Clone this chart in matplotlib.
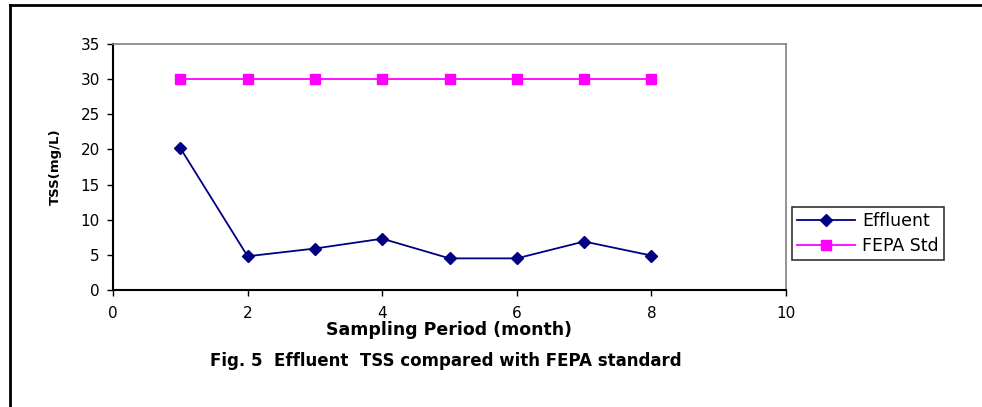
import matplotlib.pyplot as plt
from matplotlib.lines import Line2D

plt.rcParams['font.family'] = ['DejaVu Sans']

months = [1, 2, 3, 4, 5, 6, 7, 8]
effluent = [20.2, 4.8, 5.9, 7.3, 4.5, 4.5, 6.9, 4.9]
fepa_std = [30, 30, 30, 30, 30, 30, 30, 30]

W, H = 982, 407
fig = plt.figure(figsize=(W / 100, H / 100), dpi=100)
ax = fig.add_axes([113 / W, 1 - 290 / H, (786 - 113) / W, (290 - 44) / H])

ax.plot(months, effluent, color='#000080', marker='D', markersize=6.5,
        linewidth=1.3, label='Effluent')
ax.plot(months, fepa_std, color='#FF00FF', marker='s', markersize=6.5,
        linewidth=1.3, label='FEPA Std')

ax.set_xlim(0, 10)
ax.set_ylim(0, 35)
ax.set_xticks(range(0, 11, 2))
ax.set_yticks(range(0, 36, 5))
ax.tick_params(direction='out', length=4.5, width=1, labelsize=11, color='black')
ax.tick_params(axis='x', pad=7)
ax.tick_params(axis='y', pad=5)
ax.spines['left'].set_color('black')
ax.spines['bottom'].set_color('black')
ax.spines['left'].set_linewidth(1.5)
ax.spines['bottom'].set_linewidth(1.5)
ax.spines['top'].set_color('#808080')
ax.spines['right'].set_color('#808080')
ax.spines['top'].set_linewidth(1.2)
ax.spines['right'].set_linewidth(1.2)

ax.set_ylabel('TSS(mg/L)', fontsize=9.5, fontweight='bold', labelpad=13)
ax.set_xlabel('Sampling Period (month)', fontsize=12.5, fontweight='bold', labelpad=0)

leg = ax.legend(loc='upper left', bbox_to_anchor=(792 / W, 1 - 207 / H),
                bbox_transform=fig.transFigure, frameon=True, fancybox=False,
                fontsize=12.5, borderpad=0.3, handlelength=3.3,
                labelspacing=0.4, handletextpad=0.45, borderaxespad=0)
leg.get_frame().set_edgecolor('black')
leg.get_frame().set_linewidth(1.2)

fig.text(446 / W, 1 - 361 / H, 'Fig. 5  Effluent  TSS compared with FEPA standard',
         ha='center', va='center', fontsize=12, fontweight='bold')

# outer frame (left and top edges visible)
fig.add_artist(Line2D([10 / W, 10 / W], [0, 1 - 4.5 / H], color='black',
                      linewidth=2, transform=fig.transFigure))
fig.add_artist(Line2D([10 / W, 1], [1 - 4.5 / H, 1 - 4.5 / H], color='black',
                      linewidth=2, transform=fig.transFigure))

fig.savefig('out.png', dpi=100)
